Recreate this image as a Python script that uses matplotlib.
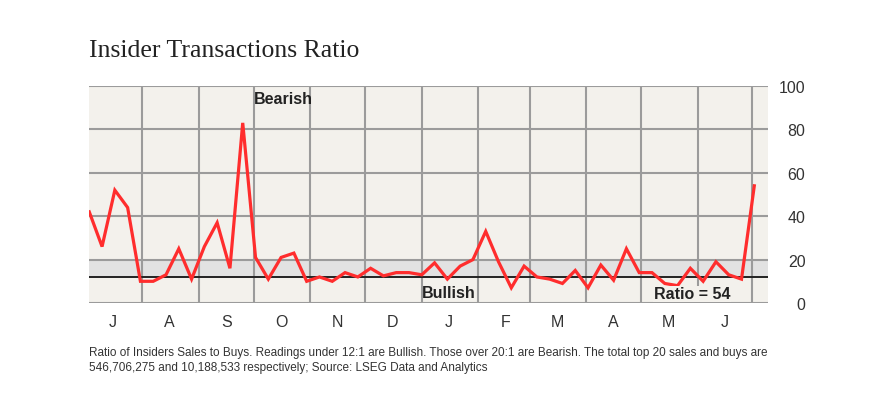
import matplotlib
matplotlib.use("Agg")
import matplotlib.pyplot as plt
import matplotlib.dates as mdates
from matplotlib.ticker import FuncFormatter
import pandas as pd

# weekly readings, sales-to-buys ratio
start_date = "2024-07-03"
ratio = [42, 26, 52, 44, 10, 10, 13, 25, 11, 26, 37, 16, 83,
         21, 11, 21, 23, 10, 12, 10, 14, 12, 16, 12.5, 14, 14,
         13, 18.5, 11, 17, 20, 33, 19, 7, 17, 12, 11, 9, 15, 7,
         17.5, 10.5, 25, 14, 14, 9, 8, 16, 10, 19, 13, 11, 54]
dates = pd.date_range(start_date, periods=len(ratio), freq="7D")

bullish_level = 12
bearish_level = 20
yticks = [0, 20, 40, 60, 80, 100]

title = "Insider Transactions Ratio"
note = ("Ratio of Insiders Sales to Buys. Readings under 12:1 are Bullish. Those over 20:1 are Bearish. "
        "The total top 20 sales and buys are\n"
        "546,706,275 and 10,188,533 respectively; Source: LSEG Data and Analytics")

plt.rcParams['font.family'] = ['Liberation Sans', 'DejaVu Sans']

fig = plt.figure(figsize=(8.74, 4.02), dpi=100)
W, H = 874, 402
# axes box in pixels: left 88.5, right 768, top 87, bottom 304
ax = fig.add_axes([88.5 / W, 1 - 304 / H, (768 - 88.5) / W, (304 - 87) / H])
ax.set_facecolor("#f3f1ec")
for s in ax.spines.values():
    s.set_visible(False)

ax.axhspan(bullish_level, bearish_level, color="#e2e2e2", zorder=0.4, lw=0)
ax.set_axisbelow(True)
ax.grid(True, which="major", color="#9b9b9b", lw=1.5)
ax.axhline(bullish_level, color="#222222", lw=1.4, zorder=1)
ax.plot(dates, ratio, color="#ff2d2d", lw=2.3, zorder=3, solid_joinstyle="miter")

ax.set_ylim(0, 100)
ax.set_yticks(yticks)
ax.set_xlim(pd.Timestamp("2024-07-02 14:00"), pd.Timestamp("2025-07-09 12:00"))

ax.xaxis.set_major_locator(mdates.MonthLocator())
ax.xaxis.set_major_formatter(FuncFormatter(lambda v, p: ""))
ax.xaxis.set_minor_locator(mdates.MonthLocator(bymonthday=16))
ax.xaxis.set_minor_formatter(FuncFormatter(lambda v, p: mdates.num2date(v).strftime("%b")[0]))
ax.tick_params(axis="x", which="both", length=0, pad=8, labelsize=11.5, labelcolor="#333333")

ax.yaxis.tick_right()
ax.tick_params(axis="y", length=0, pad=27, labelsize=11.5, labelcolor="#333333")
for lab in ax.get_yticklabels():
    lab.set_horizontalalignment("right")

# annotations
ax.text(pd.Timestamp("2024-10-01"), 97.5, "Bearish", fontsize=11.5, fontweight="bold",
        color="#222222", va="top", ha="left", zorder=4)
ax.text(pd.Timestamp("2025-01-01"), 1.5, "Bullish", fontsize=11.5, fontweight="bold",
        color="#222222", va="bottom", ha="left", zorder=4)
ax.text(pd.Timestamp("2025-05-08"), 0.8, "Ratio = 54", fontsize=11.5, fontweight="bold",
        color="#222222", va="bottom", ha="left", zorder=4,
        bbox=dict(facecolor="#f3f1ec", edgecolor="none", pad=0.5))

fig.text(89 / W, 1 - 57 / H, title, fontsize=18.5, family=["Liberation Serif", "DejaVu Serif"],
         color="#222222", ha="left", va="baseline")
fig.text(89 / W, 1 - 347 / H, note, fontsize=8.5, color="#333333", ha="left", va="top",
         linespacing=1.3)

fig.savefig("out.png", dpi=100, facecolor="white")
